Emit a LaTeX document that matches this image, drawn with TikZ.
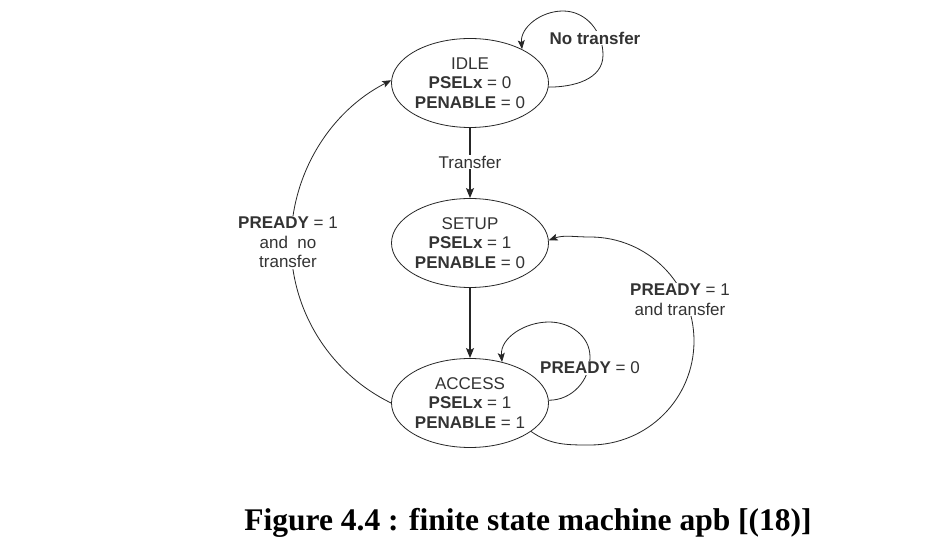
\documentclass[tikz,border=0pt]{standalone}
\usepackage{fontspec}
\setmainfont{Liberation Sans}
\newfontfamily\capfont{Liberation Serif}
\usetikzlibrary{shapes.geometric,arrows.meta}
\begin{document}
\begin{tikzpicture}[x=1pt,y=1pt,
  state/.style={ellipse,draw=black!85,line width=0.8pt,minimum width=157pt,minimum height=89pt,
    inner sep=0pt,align=center,font=\fontsize{17}{19.5}\selectfont,text=black!80},
  tr/.style={draw=black!85,line width=1.4pt,-{Stealth[length=10pt,width=8pt,inset=2pt]}},
  lp/.style={draw=black!85,line width=0.8pt,-{Stealth[length=9pt,width=7pt,inset=2pt]}},
  lbl/.style={fill=white,inner sep=1pt,align=center,font=\fontsize{17}{19.5}\selectfont,text=black!80}
]
\useasboundingbox (0,0) rectangle (934,538);
\fill[white] (0,0) rectangle (934,538);

\node[state] (idle)   at (470,455) {IDLE\\\textbf{PSELx} = 0\\\textbf{PENABLE} = 0};
\node[state] (setup)  at (470,295) {SETUP\\\textbf{PSELx} = 1\\\textbf{PENABLE} = 0};
\node[state] (access) at (470,135) {ACCESS\\\textbf{PSELx} = 1\\\textbf{PENABLE} = 1};

% straight transitions
\draw[tr] (idle) -- (setup);
\draw[tr] (setup) -- (access);

% IDLE self loop
\draw[lp] (idle.-3) to[out=0,in=-90] (603,483) to[out=90,in=0] (563,527) to[out=180,in=95] (idle.33);

% ACCESS self loop
\draw[lp] (access.2) to[out=0,in=-90] (590,181) to[out=90,in=0] (549,216) to[out=180,in=95] (access.52);

% ACCESS -> SETUP (big right arc)
\draw[lp] (access.-25) to[out=-35,in=180] (590,93) to[out=0,in=-90] (694,197)
  to[out=90,in=0] (590,301) to[out=180,in=20] (setup.2);

% ACCESS -> IDLE (big left arc)
\draw[lp] (access.west) to[out=154,in=-90,looseness=0.92] (291,295)
  to[out=90,in=-153,looseness=0.92] (idle.178);

% labels
\node[lbl] (ltransfer) at (470,376) {Transfer};
\node[lbl] (lnotr) at (595,500) {\textbf{No transfer}};
\node[lbl] (lpr0) at (590,170) {\textbf{PREADY} = 0};
\node[lbl] (lpr1t) at (680,238.5) {\textbf{PREADY} = 1\\and transfer};
\node[lbl] (lpr1n) at (288,295.5) {\textbf{PREADY} = 1\\and~~no\\transfer};

% caption
\node[anchor=base,inner sep=0pt,font=\capfont\bfseries\fontsize{31.5}{36}\selectfont] (cap) at (528,8)
  {Figure 4.4 : finite state machine apb [(18)]};
\end{tikzpicture}
\end{document}
